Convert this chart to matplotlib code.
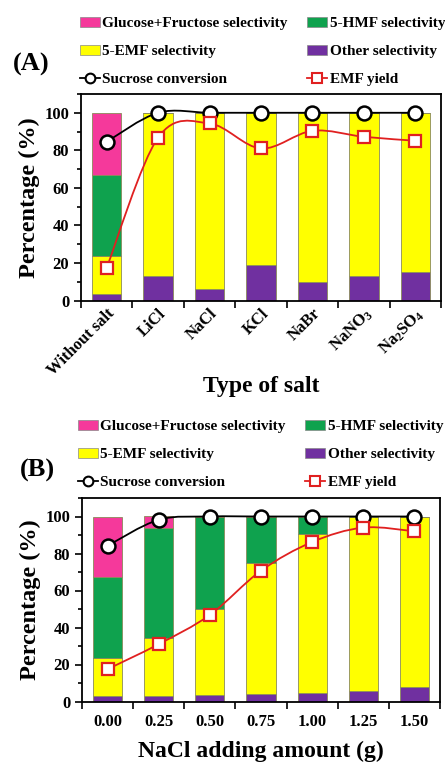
import matplotlib
matplotlib.use("Agg")
import matplotlib.pyplot as plt
import numpy as np
from matplotlib.path import Path
from matplotlib.patches import PathPatch, Patch
from matplotlib.lines import Line2D
from matplotlib.ticker import MultipleLocator

# ---- data: panel (A) type of salt ----
salts = ["Without salt", "LiCl", "NaCl", "KCl", "NaBr", "NaNO$_3$", "Na$_2$SO$_4$"]
a_other = [3.2, 12.9, 5.9, 19.1, 10.1, 12.8, 15.0]
a_emf_sel = [20.5, 87.1, 94.1, 80.9, 89.9, 87.2, 85.0]
a_hmf_sel = [43.3, 0, 0, 0, 0, 0, 0]
a_gluc_sel = [33.0, 0, 0, 0, 0, 0, 0]
a_conversion = [84.6, 100, 100, 100, 100, 100, 100]
a_emf_yield = [17.5, 86.8, 94.3, 81.0, 90.4, 87.2, 85.1]

# ---- data: panel (B) NaCl adding amount ----
nacl_amount = ["0.00", "0.25", "0.50", "0.75", "1.00", "1.25", "1.50"]
b_other = [3.0, 3.0, 3.5, 4.0, 4.6, 5.7, 7.7]
b_emf_sel = [20.6, 31.4, 46.5, 70.7, 86.1, 94.3, 92.3]
b_hmf_sel = [43.5, 59.6, 50.0, 25.3, 9.3, 0, 0]
b_gluc_sel = [32.9, 6.0, 0, 0, 0, 0, 0]
b_conversion = [84.2, 98.2, 100, 100, 100, 100, 100]
b_emf_yield = [17.5, 31.0, 46.8, 70.7, 86.2, 94.0, 92.0]

PINK = "#f5399b"
GREEN = "#0fa24e"
YELLOW = "#ffff00"
PURPLE = "#7030a0"
RED = "#e02020"

plt.rcParams["font.family"] = "Liberation Serif"
plt.rcParams["font.weight"] = "bold"
plt.rcParams["axes.labelweight"] = "bold"
plt.rcParams["mathtext.fontset"] = "custom"
plt.rcParams["mathtext.rm"] = "Liberation Serif:bold"
plt.rcParams["mathtext.default"] = "rm"


def smooth_path(x, y):
    """ Excel-like smoothed line through the points (cubic bezier). """
    n = len(x)
    verts = [(x[0], y[0])]
    codes = [Path.MOVETO]
    for i in range(n - 1):
        p0 = max(i - 1, 0)
        p3 = min(i + 2, n - 1)
        c1 = (x[i] + (x[i + 1] - x[p0]) / 6, y[i] + (y[i + 1] - y[p0]) / 6)
        c2 = (x[i + 1] - (x[p3] - x[i]) / 6, y[i + 1] - (y[p3] - y[i]) / 6)
        verts += [c1, c2, (x[i + 1], y[i + 1])]
        codes += [Path.CURVE4] * 3
    return Path(verts, codes)


def draw_panel(ax, labels, other, emf_sel, hmf_sel, gluc_sel, conv, yld):
    x = np.arange(len(labels))
    w = 0.57
    edge = dict(edgecolor="#8a8a5a", linewidth=0.6, width=w)
    bottom = np.zeros(len(x))
    ax.bar(x, other, bottom=bottom, color=PURPLE, **edge)
    bottom += other
    ax.bar(x, emf_sel, bottom=bottom, color=YELLOW, **edge)
    bottom += emf_sel
    ax.bar(x, hmf_sel, bottom=bottom, color=GREEN, **edge)
    bottom += hmf_sel
    ax.bar(x, gluc_sel, bottom=bottom, color=PINK, **edge)

    ax.add_patch(PathPatch(smooth_path(x, conv), fill=False, edgecolor="black", lw=1.3, zorder=3))
    ax.add_patch(PathPatch(smooth_path(x, yld), fill=False, edgecolor=RED, lw=1.3, zorder=3))
    ax.plot(x, conv, ls="none", marker="o", ms=10, mfc="white", mec="black", mew=1.8, zorder=4)
    ax.plot(x, yld, ls="none", marker="s", ms=8.5, mfc="white", mec=RED, mew=1.6, zorder=4)

    ax.set_xlim(-0.5, len(x) - 0.5)
    ax.set_ylim(0, 110)
    ax.yaxis.set_minor_locator(MultipleLocator(10))
    ax.set_yticks([0, 20, 40, 60, 80, 100])
    ax.set_xticks(x)
    ax.set_xticks(np.arange(-0.5, len(x)), minor=True)
    ax.tick_params(axis="x", which="major", length=0, labelsize=12)
    ax.tick_params(axis="x", which="minor", length=5, width=1.2, direction="out")
    ax.tick_params(axis="y", which="major", length=5, width=1.2, direction="out", labelsize=12)
    ax.tick_params(axis="y", which="minor", length=3, width=1.2, direction="out")
    for s in ax.spines.values():
        s.set_linewidth(1.3)
    ax.set_ylabel("Percentage (%)", fontsize=17.5, labelpad=3)


def add_legend(fig, x0, y0):
    handles = [
        Patch(facecolor=PINK, edgecolor="#888888", lw=0.5),
        Patch(facecolor=YELLOW, edgecolor="#888888", lw=0.5),
        Line2D([], [], color="black", lw=1.3, marker="o", ms=7, mfc="white", mec="black", mew=1.5),
        Patch(facecolor=GREEN, edgecolor="#888888", lw=0.5),
        Patch(facecolor=PURPLE, edgecolor="#888888", lw=0.5),
        Line2D([], [], color=RED, lw=1.3, marker="s", ms=6.5, mfc="white", mec=RED, mew=1.5),
    ]
    names = ["Glucose+Fructose selectivity", "5-EMF selectivity", "Sucrose conversion",
             "5-HMF selectivity", "Other selectivity", "EMF yield"]
    fig.legend(handles, names, loc="upper left", ncol=2, frameon=False,
               bbox_to_anchor=(x0 / 445, 1 - y0 / 763), bbox_transform=fig.transFigure,
               fontsize=11, borderpad=0, borderaxespad=0, handlelength=1.3,
               handleheight=0.6, handletextpad=0.15, columnspacing=1.3, labelspacing=0.97)


fig = plt.figure(figsize=(4.45, 7.63), dpi=100)

ax1 = fig.add_axes([81 / 445, 1 - 300.5 / 763, 360 / 445, 206.5 / 763])
draw_panel(ax1, salts, a_other, a_emf_sel, a_hmf_sel, a_gluc_sel, a_conversion, a_emf_yield)
ax1.set_xticklabels(salts, rotation=45, ha="right", rotation_mode="anchor")
ax1.set_xlabel("Type of salt", fontsize=17, labelpad=-2)
add_legend(fig, 80, 17)
fig.text(31 / 445, 1 - 64 / 763, "(A)", fontsize=19, ha="center", va="center")

ax2 = fig.add_axes([82 / 445, 1 - 701.5 / 763, 358 / 445, 203.5 / 763])
draw_panel(ax2, nacl_amount, b_other, b_emf_sel, b_hmf_sel, b_gluc_sel, b_conversion, b_emf_yield)
ax2.set_xticklabels(nacl_amount)
ax2.tick_params(axis="x", which="major", pad=9)
ax2.set_xlabel("NaCl adding amount (g)", fontsize=17, labelpad=8)
add_legend(fig, 78, 420)
fig.text(37 / 445, 1 - 470 / 763, "(B)", fontsize=19, ha="center", va="center")

fig.savefig("out.png", dpi=100)
